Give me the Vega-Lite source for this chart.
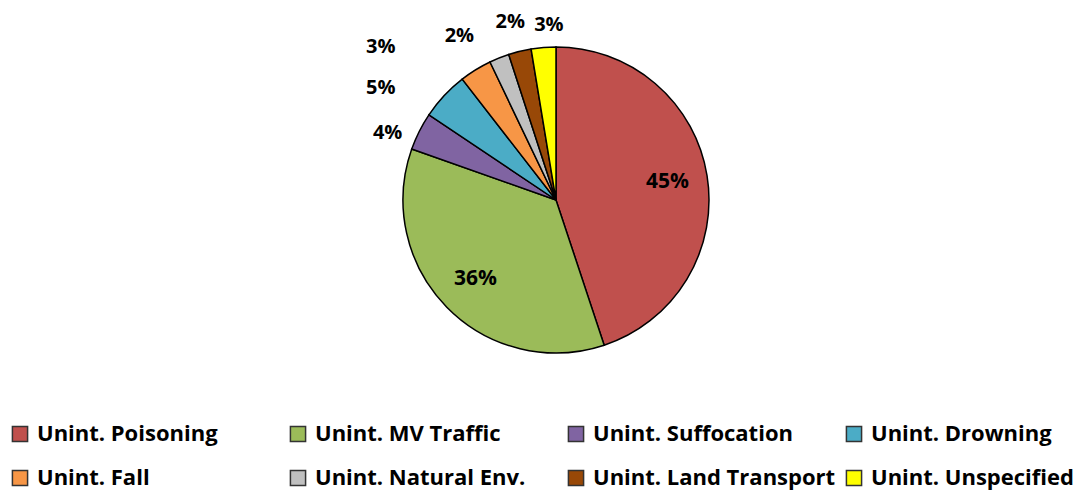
{
  "$schema": "https://vega.github.io/schema/vega-lite/v6.json",
  "autosize": "none",
  "width": 1036,
  "height": 400,
  "padding": {"left": 38, "top": 0, "right": 0, "bottom": 94},
  "background": "white",
  "data": {
    "values": [
      {"idx": 1, "cause": "Unint. Poisoning", "value": 44.9, "label": "45%"},
      {"idx": 2, "cause": "Unint. MV Traffic", "value": 35.5, "label": "36%"},
      {"idx": 3, "cause": "Unint. Suffocation", "value": 4.0, "label": "4%"},
      {"idx": 4, "cause": "Unint. Drowning", "value": 5.1, "label": "5%"},
      {"idx": 5, "cause": "Unint. Fall", "value": 3.4, "label": "3%"},
      {"idx": 6, "cause": "Unint. Natural Env.", "value": 2.1, "label": "2%"},
      {"idx": 7, "cause": "Unint.  Land Transport", "value": 2.4, "label": "2%"},
      {"idx": 8, "cause": "Unint. Unspecified", "value": 2.6, "label": "3%"}
    ]
  },
  "encoding": {
    "theta": {"field": "value", "type": "quantitative", "stack": true},
    "order": {"field": "idx", "type": "quantitative"}
  },
  "layer": [
    {
      "mark": {"type": "arc", "outerRadius": 153, "stroke": "black", "strokeWidth": 1.5},
      "encoding": {
        "color": {
          "field": "cause",
          "type": "nominal",
          "sort": null,
          "scale": {
            "domain": ["Unint. Poisoning", "Unint. Fall", "Unint. MV Traffic", "Unint. Natural Env.", "Unint. Suffocation", "Unint.  Land Transport", "Unint. Drowning", "Unint. Unspecified"],
            "range": ["#C0504D", "#F79646", "#9BBB59", "#C0C0C0", "#8064A2", "#984807", "#4BACC6", "#FFFF00"]
          },
          "legend": {
            "title": null,
            "orient": "none",
            "legendX": -29,
            "legendY": 423,
            "columns": 4,
            "gridAlign": "all",
            "columnPadding": 2,
            "rowPadding": 22,
            "symbolType": "square",
            "symbolSize": 230,
            "symbolStrokeColor": "#333333",
            "symbolStrokeWidth": 1.5,
            "symbolOffset": 0,
            "labelOffset": 6,
            "labelFont": "Open Sans",
            "labelFontWeight": "bold",
            "labelFontSize": 22,
            "labelColor": "black",
            "labelLimit": 400
          }
        }
      }
    },
    {
      "mark": {"type": "text", "radius": 113, "font": "Open Sans", "fontWeight": "bold", "fontSize": 21, "color": "black"},
      "encoding": {"text": {"condition": {"test": "datum.value > 10", "field": "label"}, "value": ""}}
    },
    {
      "mark": {"type": "text", "radius": 185, "dx": -3, "dy": 16, "font": "Open Sans", "fontWeight": "bold", "fontSize": 20, "color": "black"},
      "encoding": {"text": {"condition": {"test": "datum.idx == 3", "field": "label"}, "value": ""}}
    },
    {
      "mark": {"type": "text", "radius": 185, "dx": -40, "dy": 14, "font": "Open Sans", "fontWeight": "bold", "fontSize": 20, "color": "black"},
      "encoding": {"text": {"condition": {"test": "datum.idx == 4", "field": "label"}, "value": ""}}
    },
    {
      "mark": {"type": "text", "radius": 185, "dx": -78, "dy": 4, "font": "Open Sans", "fontWeight": "bold", "fontSize": 20, "color": "black"},
      "encoding": {"text": {"condition": {"test": "datum.idx == 5", "field": "label"}, "value": ""}}
    },
    {
      "mark": {"type": "text", "radius": 185, "dx": -28, "dy": 8, "font": "Open Sans", "fontWeight": "bold", "fontSize": 20, "color": "black"},
      "encoding": {"text": {"condition": {"test": "datum.idx == 6", "field": "label"}, "value": ""}}
    },
    {
      "mark": {"type": "text", "radius": 185, "dx": -2, "dy": 2, "font": "Open Sans", "fontWeight": "bold", "fontSize": 20, "color": "black"},
      "encoding": {"text": {"condition": {"test": "datum.idx == 7", "field": "label"}, "value": ""}}
    },
    {
      "mark": {"type": "text", "radius": 185, "dx": 8, "dy": 9, "font": "Open Sans", "fontWeight": "bold", "fontSize": 20, "color": "black"},
      "encoding": {"text": {"condition": {"test": "datum.idx == 8", "field": "label"}, "value": ""}}
    }
  ],
  "config": {"view": {"stroke": null}}
}
